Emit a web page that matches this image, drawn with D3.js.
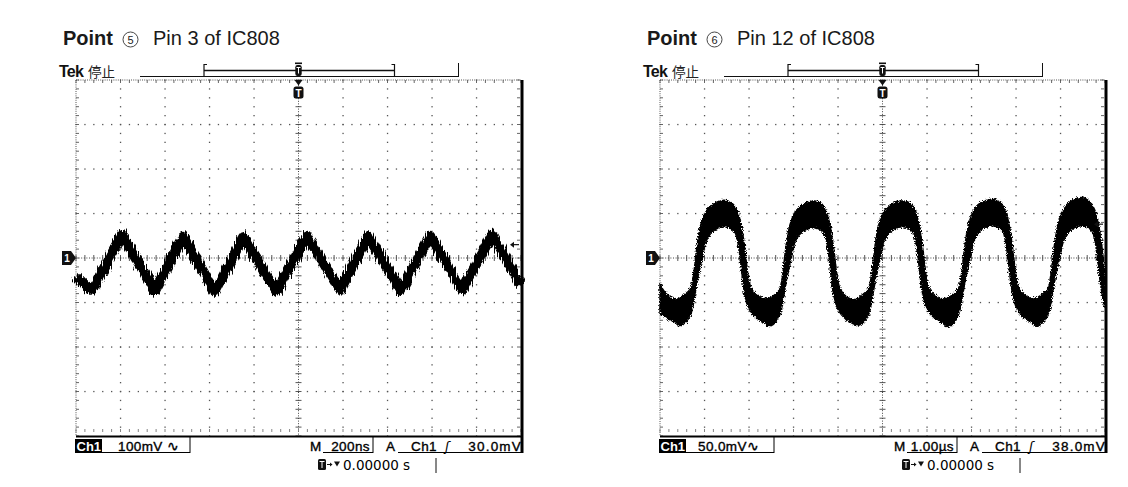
<!DOCTYPE html>
<html><head><meta charset="utf-8">
<script src="https://cdn.jsdelivr.net/npm/d3@7"></script>
<style>body{margin:0;background:#fff}svg{display:block}</style>
</head><body>
<svg id="c" width="1128" height="487"></svg>
<script>
// ---------- DATA ----------
// Left scope: Point 5, Pin 3 of IC808 (100mV/div, 200ns/div) - centre of noisy trace
const leftTimeNs = [-1000,-960,-928,-793,-645,-519,-375,-249,-97,38,187,312,461,591,735,870,1000];
const leftMv     = [-40,-60,-72,52,-74,48,-76,47,-75,50,-73,49,-74,50,-72,52,-60];
// Right scope: Point 6, Pin 12 of IC808 (50mV/div, 1us/div) - upper & lower envelope of trace
const rightUpperUs = [-5.0,-4.95,-4.82,-4.62,
  -4.47,-4.32,-4.25,-4.20,-4.15,-4.08,-3.99,-3.87,-3.57,-3.39,-3.27,-3.19,-3.12,-3.07,-3.02,-2.95,-2.82,-2.62,
  -2.47,-2.32,-2.25,-2.20,-2.15,-2.08,-1.99,-1.87,-1.57,-1.39,-1.27,-1.19,-1.12,-1.07,-1.02,-0.95,-0.82,-0.62,
  -0.47,-0.32,-0.25,-0.20,-0.15,-0.08,0.01,0.13,0.43,0.61,0.73,0.81,0.88,0.93,0.98,1.05,1.18,1.38,
  1.55,1.70,1.77,1.82,1.87,1.94,2.03,2.15,2.45,2.63,2.75,2.83,2.90,2.95,3.00,3.07,3.20,3.40,
  3.56,3.71,3.78,3.83,3.88,3.95,4.04,4.16,4.46,4.64,4.76,4.84,4.91,4.96,5.0];
const rightUpperMv = [-28,-34,-42,-46,
  -42,-35,-20,0,20,38,50,58,65,62,54,40,20,0,-20,-34,-42,-46,
  -43,-36,-21,0,19,37,49,57,64,62,53,39,19,0,-21,-35,-43,-47,
  -42,-35,-20,0,20,38,50,58,64,62,54,40,20,0,-20,-34,-42,-46,
  -42,-35,-20,0,20,39,51,60,66,63,55,41,20,0,-20,-34,-42,-46,
  -42,-35,-20,0,20,39,52,61,68,64,55,41,20,0,-22];
const rightLowerUs = [-5.0,-4.82,-4.65,
  -4.57,-4.42,-4.30,-4.22,-4.14,-4.05,-3.97,-3.87,-3.72,-3.52,-3.33,-3.26,-3.20,-3.15,-3.09,-2.99,-2.82,-2.65,
  -2.57,-2.42,-2.30,-2.22,-2.14,-2.05,-1.97,-1.87,-1.72,-1.52,-1.33,-1.26,-1.20,-1.15,-1.09,-0.99,-0.82,-0.65,
  -0.57,-0.42,-0.30,-0.22,-0.14,-0.05,0.03,0.13,0.28,0.48,0.67,0.74,0.80,0.85,0.91,1.01,1.18,1.35,
  1.45,1.60,1.72,1.80,1.88,1.97,2.05,2.15,2.30,2.50,2.69,2.76,2.82,2.87,2.93,3.03,3.20,3.37,
  3.46,3.61,3.73,3.81,3.89,3.98,4.06,4.16,4.31,4.51,4.70,4.77,4.83,4.88,4.94,5.0];
const rightLowerMv = [-62,-68,-73,
  -76,-72,-62,-42,-20,0,18,27,33,35,30,20,0,-22,-42,-58,-68,-73,
  -77,-73,-63,-43,-21,0,17,26,32,34,29,19,0,-23,-43,-59,-69,-74,
  -76,-72,-62,-42,-20,0,18,27,33,35,30,20,0,-22,-42,-58,-68,-73,
  -77,-73,-62,-42,-20,0,18,28,34,36,31,20,0,-22,-42,-58,-68,-73,
  -77,-72,-62,-42,-20,0,18,28,34,36,31,20,0,-22,-42,-56];
// readouts
const titles     = ["Pin 3 of IC808","Pin 12 of IC808"];
const pointNums  = ["5","6"];
const voltDivLbl = ["100mV \u223F","50.0mV\u223F"];
const timeDivLbl = ["200ns","1.00\u00B5s"];
const trigLbl    = ["30.0mV","38.0mV"];
const trigMv     = [30,38];
const mvPerDiv   = [100,50];
const timeSpan   = [[-1000,1000],[-5,5]];
const delayLbl   = "0.00000 s";

// ---------- DRAW ----------
const SANS = "'Liberation Sans', Arial, Helvetica, sans-serif";
const svg = d3.select("#c");
const defs = svg.append("defs");
const f1 = defs.append("filter").attr("id","roughL").attr("x","-3%").attr("y","-20%").attr("width","106%").attr("height","140%");
f1.append("feTurbulence").attr("type","fractalNoise").attr("baseFrequency","0.9 0.06").attr("numOctaves",2).attr("seed",4).attr("result","n");
f1.append("feDisplacementMap").attr("in","SourceGraphic").attr("in2","n").attr("scale",9).attr("xChannelSelector","R").attr("yChannelSelector","G");
const f2 = defs.append("filter").attr("id","roughR").attr("x","-3%").attr("y","-10%").attr("width","106%").attr("height","120%");
f2.append("feTurbulence").attr("type","fractalNoise").attr("baseFrequency","0.8 0.8").attr("numOctaves",2).attr("seed",7).attr("result","n");
f2.append("feDisplacementMap").attr("in","SourceGraphic").attr("in2","n").attr("scale",5).attr("xChannelSelector","R").attr("yChannelSelector","G");

const TOP=80, BOT=436, GW=445;
const origins = [76, 660];

function drawScope(k){
  const x0 = origins[k];
  const g = svg.append("g");
  const gx = d3.scaleLinear().domain([-5,5]).range([x0, x0+GW]);
  const gy = d3.scaleLinear().domain([-4,4]).range([BOT, TOP]);
  const xs = d3.scaleLinear().domain(timeSpan[k]).range([x0, x0+GW]);
  const ys = d3.scaleLinear().domain([-4*mvPerDiv[k], 4*mvPerDiv[k]]).range([BOT, TOP]);

  // Title
  const t = g.append("text").attr("x",x0-13).attr("y",45).attr("font-family",SANS).attr("font-size",20).attr("fill","#1a1a1a");
  t.append("tspan").attr("font-weight","bold").text("Point");
  g.append("circle").attr("cx",x0+54.5).attr("cy",39.5).attr("r",7.5).attr("fill","none").attr("stroke","#333").attr("stroke-width",0.9);
  g.append("text").attr("x",x0+54.5).attr("y",43.5).attr("text-anchor","middle").attr("font-family",SANS).attr("font-size",11).attr("fill","#222").text(pointNums[k]);
  g.append("text").attr("x",x0+77).attr("y",45).attr("font-family",SANS).attr("font-size",20).attr("fill","#1a1a1a").text(titles[k]);

  // Tek header
  g.append("text").attr("x",x0-17).attr("y",77).attr("font-family",SANS).attr("font-weight","bold").attr("font-size",16).attr("letter-spacing",-0.8).attr("fill","#111").text("Tek");
  g.append("text").attr("x",x0+12).attr("y",77).attr("font-family","'Noto Sans CJK JP', sans-serif").attr("font-size",13.5).attr("fill","#222").text("停止");
  const ln = (x1,y1,x2,y2,w,c)=>g.append("line").attr("x1",x1).attr("y1",y1).attr("x2",x2).attr("y2",y2).attr("stroke",c||"#111").attr("stroke-width",w||1);
  ln(x0+64,76.5,x0+383,76.5,1);
  ln(x0+382.5,63,x0+382.5,77,1);
  // record bracket
  const bl=x0+128, br=x0+318.5;
  ln(bl,64,bl,77,1.2); ln(bl,64.5,bl+3,64.5,1); ln(bl,76.5,bl+3,76.5,1);
  ln(br,64,br,77,1.2); ln(br-3,64.5,br,64.5,1); ln(br-3,76.5,br,76.5,1);
  ln(bl,70.5,br,70.5,1.6);
  // trigger position marker
  const cx = gx(0);
  g.append("rect").attr("x",cx-3.5).attr("y",62.5).attr("width",7).attr("height",1.6).attr("fill","#111");
  g.append("rect").attr("x",cx-3.2).attr("y",65).attr("width",6.4).attr("height",11).attr("rx",2.2).attr("fill","#111");
  ln(cx-2,67.5,cx+2,67.5,1,"#fff"); ln(cx,67.5,cx,73.5,1,"#fff");

  // Graticule - interior grid dots
  const interior = d3.range(-4,5).filter(d=>d!==0);
  const hInterior = d3.range(-3,4).filter(d=>d!==0);
  const steps = d3.range(-25,26).map(d=>d/5);
  const vSteps = d3.range(-20,21).map(d=>d/5);
  const dots=[];
  interior.forEach(i=>vSteps.forEach(j=>dots.push([i,j])));
  hInterior.forEach(j=>steps.forEach(i=>dots.push([i,j])));
  g.append("g").selectAll("rect").data(dots).join("rect")
    .attr("x",d=>gx(d[0])-0.6).attr("y",d=>gy(d[1])-0.6).attr("width",1.3).attr("height",1.3).attr("fill","#555");
  // centre axes (dense dots + minor ticks)
  g.append("line").attr("x1",gx(0)).attr("x2",gx(0)).attr("y1",TOP).attr("y2",BOT).attr("stroke","#444").attr("stroke-width",1).attr("stroke-dasharray","1 1.6");
  g.append("line").attr("x1",gx(-5)).attr("x2",gx(5)).attr("y1",gy(0)).attr("y2",gy(0)).attr("stroke","#444").attr("stroke-width",1).attr("stroke-dasharray","1 1.6");
  g.append("g").selectAll("line").data(vSteps).join("line").attr("x1",gx(0)-3).attr("x2",gx(0)+3).attr("y1",d=>gy(d)).attr("y2",d=>gy(d)).attr("stroke","#444").attr("stroke-width",0.9);
  g.append("g").selectAll("line").data(steps).join("line").attr("y1",gy(0)-3).attr("y2",gy(0)+3).attr("x1",d=>gx(d)).attr("x2",d=>gx(d)).attr("stroke","#444").attr("stroke-width",0.9);
  // borders
  g.append("line").attr("x1",gx(-5)).attr("x2",gx(5)).attr("y1",TOP).attr("y2",TOP).attr("stroke","#555").attr("stroke-width",1).attr("stroke-dasharray","1 1.2");
  g.append("line").attr("x1",gx(-5)).attr("x2",gx(-5)).attr("y1",TOP).attr("y2",BOT).attr("stroke","#555").attr("stroke-width",1).attr("stroke-dasharray","1 1.2");
  g.append("g").selectAll("line").data(steps).join("line").attr("x1",d=>gx(d)).attr("x2",d=>gx(d)).attr("y1",TOP).attr("y2",TOP+3).attr("stroke","#555").attr("stroke-width",0.9);
  g.append("g").selectAll("line").data(steps).join("line").attr("x1",d=>gx(d)).attr("x2",d=>gx(d)).attr("y1",BOT-7).attr("y2",BOT-4).attr("stroke","#777").attr("stroke-width",0.9);
  g.append("g").selectAll("line").data(vSteps).join("line").attr("x1",gx(-5)).attr("x2",gx(-5)+3).attr("y1",d=>gy(d)).attr("y2",d=>gy(d)).attr("stroke","#555").attr("stroke-width",0.9);
  g.append("g").selectAll("line").data(vSteps).join("line").attr("x1",gx(5)-4).attr("x2",gx(5)-1).attr("y1",d=>gy(d)).attr("y2",d=>gy(d)).attr("stroke","#555").attr("stroke-width",0.9);
  ln(gx(-5),BOT+0.5,gx(5)+2,BOT+0.5,2.2,"#000");
  ln(gx(5)+1,TOP,gx(5)+1,BOT+17,3,"#000");

  // trace
  if(k===0){
    const pts = leftTimeNs.map((t,i)=>[t,leftMv[i]]);
    g.append("path").datum(pts).attr("d",d3.line().x(d=>xs(d[0])).y(d=>ys(d[1])))
      .attr("fill","none").attr("stroke","#000").attr("stroke-width",10).attr("stroke-linejoin","round").attr("stroke-linecap","butt")
      .attr("filter","url(#roughL)");
  } else {
    const up = rightUpperUs.map((t,i)=>[t,rightUpperMv[i]]);
    const lo = rightLowerUs.map((t,i)=>[t,rightLowerMv[i]]).reverse();
    const line = d3.line().x(d=>xs(d[0])).y(d=>ys(d[1])).curve(d3.curveCatmullRom.alpha(0.5));
    g.append("path").attr("d", line(up) + "L" + line(lo).slice(1) + "Z")
      .attr("fill","#000").attr("stroke","#000").attr("stroke-width",1.5).attr("filter","url(#roughR)");
  }

  // trigger T badge below top border
  g.append("path").attr("d",`M${cx-4},80 L${cx+4},80 L${cx},85.5 Z`).attr("fill","#111");
  g.append("rect").attr("x",cx-5).attr("y",86.5).attr("width",10).attr("height",12).attr("rx",2.5).attr("fill","#111");
  g.append("text").attr("x",cx).attr("y",96.5).attr("text-anchor","middle").attr("font-family",SANS).attr("font-weight","bold").attr("font-size",10).attr("fill","#fff").text("T");

  // ground marker "1"
  const y0 = ys(0);
  g.append("path").attr("d",`M${x0-14},${y0-7} L${x0-5},${y0-7} L${x0},${y0} L${x0-5},${y0+7} L${x0-14},${y0+7} Z`).attr("fill","#111");
  g.append("text").attr("x",x0-9).attr("y",y0+4).attr("text-anchor","middle").attr("font-family",SANS).attr("font-weight","bold").attr("font-size",10).attr("fill","#fff").text("1");

  // trigger level arrow (right edge)
  const yt = ys(trigMv[k]);
  ln(x0+GW-8,yt,x0+GW-2,yt,1.2,"#111");
  g.append("path").attr("d",`M${x0+GW-11},${yt} L${x0+GW-7},${yt-3} L${x0+GW-7},${yt+3} Z`).attr("fill","#111");

  // status bar
  const SB=451;
  const st = (x,txt,anchor,ls)=>g.append("text").attr("x",x).attr("y",SB).attr("text-anchor",anchor||"start").attr("font-family",SANS).attr("font-size",13.5).attr("letter-spacing",ls||0).attr("fill","#000").attr("stroke","#000").attr("stroke-width",0.35).text(txt);
  g.append("rect").attr("x",x0-1).attr("y",439).attr("width",27).attr("height",14).attr("fill","#000");
  g.append("text").attr("x",x0+0.5).attr("y",SB).attr("font-family",SANS).attr("font-weight","bold").attr("font-size",13).attr("fill","#fff").text("Ch1");
  ln(x0+26,452.5,x0+114,452.5,1,"#000"); ln(x0+114,437,x0+114,453,1,"#000");
  st(x0+(k===0?42:38), voltDivLbl[k], "start", 0.4);
  st(x0+234,"M");
  ln(x0+247,452.5,x0+297,452.5,1,"#000"); ln(x0+297,437,x0+297,453,1,"#000");
  st(x0+294,timeDivLbl[k],"end",0.4);
  st(x0+310,"A");
  ln(x0+322,452.5,x0+447,452.5,1,"#000");
  st(x0+335,"Ch1","start",0.4);
  g.append("text").attr("x",x0+369).attr("y",SB).attr("font-family","'DejaVu Sans', sans-serif").attr("font-style","italic").attr("font-size",13).attr("fill","#000").text("\u0283");
  st(x0+446,trigLbl[k],"end",1.2);

  // delay line
  const DY=470;
  g.append("rect").attr("x",x0+242).attr("y",459).attr("width",8).attr("height",11).attr("rx",1.5).attr("fill","#111");
  ln(x0+243.5,461.5,x0+248.5,461.5,1,"#fff"); ln(x0+246,461.5,x0+246,468,1,"#fff");
  ln(x0+251,464.5,x0+255,464.5,1,"#111");
  g.append("path").attr("d",`M${x0+254},${462.5} L${x0+256.5},${464.5} L${x0+254},${466.5} Z`).attr("fill","#111");
  g.append("path").attr("d",`M${x0+258},${461.5} L${x0+264},${461.5} L${x0+261},${466.5} Z`).attr("fill","#111");
  g.append("text").attr("x",x0+267).attr("y",DY).attr("font-family","'DejaVu Sans', sans-serif").attr("font-size",13.5).attr("fill","#000").text(delayLbl);
  ln(x0+360,458,x0+360,473,1,"#111");
}
drawScope(0);
drawScope(1);
</script>
</body></html>
